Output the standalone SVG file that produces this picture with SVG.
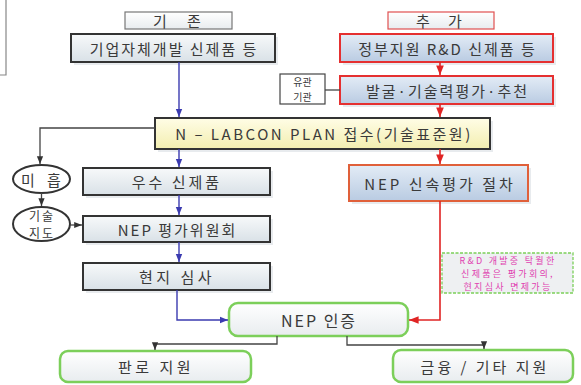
<svg xmlns="http://www.w3.org/2000/svg" width="581" height="385" viewBox="0 0 581 385">
<defs>
<linearGradient id="gGray" x1="0" y1="0" x2="0" y2="1"><stop offset="0" stop-color="#f7f9fa"/><stop offset="1" stop-color="#d9e1e7"/></linearGradient>
<linearGradient id="gBlue" x1="0" y1="0" x2="0" y2="1"><stop offset="0" stop-color="#e3ecf6"/><stop offset="1" stop-color="#b9cbe2"/></linearGradient>
<linearGradient id="gYel" x1="0" y1="0" x2="0" y2="1"><stop offset="0" stop-color="#fffde6"/><stop offset="1" stop-color="#f3eeb0"/></linearGradient>
<linearGradient id="gWhite" x1="0" y1="0" x2="0" y2="1"><stop offset="0" stop-color="#ffffff"/><stop offset="1" stop-color="#e8ecef"/></linearGradient>
<marker id="aBlue" viewBox="0 0 10 10" refX="10" refY="5" markerWidth="6" markerHeight="6" orient="auto"><path d="M0,1 L10,5 L0,9 z" fill="#3b3bb0"/></marker>
<marker id="aRed" viewBox="0 0 10 10" refX="10" refY="5" markerWidth="6" markerHeight="6" orient="auto"><path d="M0,1 L10,5 L0,9 z" fill="#e02424"/></marker>
<marker id="aDark" viewBox="0 0 10 10" refX="10" refY="5" markerWidth="6" markerHeight="6" orient="auto"><path d="M0,1 L10,5 L0,9 z" fill="#333"/></marker>
</defs>
<style>
text{font-family:"Noto Sans CJK KR","Noto Sans",sans-serif;fill:#3a3a3a;text-anchor:middle;dominant-baseline:central}
.t{font-size:15px;letter-spacing:2px}
.s{font-size:10px}
.n{font-size:9px;fill:#e040b0;letter-spacing:2.3px}
.dark{stroke:#333;stroke-width:2}
.red{stroke:#e53030;stroke-width:2}
.grn{stroke:#7ccf5a;stroke-width:2.5}
.shadow{fill:#d8dde2;opacity:0.6}
.cb{fill:none;stroke:#3b3bb0;stroke-width:1.4}
.cr{fill:none;stroke:#e02424;stroke-width:1.6}
.cd{fill:none;stroke:#444;stroke-width:1.3}
</style>
<rect width="581" height="385" fill="#ffffff"/>
<path d="M0,75 H6 V0" fill="none" stroke="#888" stroke-width="1.2"/>

<g id="n-gijon"><rect x="125" y="12" width="107" height="17" fill="url(#gWhite)" stroke="#777" stroke-width="1.2"/><text x="161" y="20.5" class="t">기</text><text x="195" y="20.5" class="t">존</text></g>
<g id="n-chuga"><rect x="388" y="12" width="106" height="17" fill="url(#gWhite)" stroke="#e05050" stroke-width="1.2"/><text x="424" y="20.5" class="t">추</text><text x="456" y="20.5" class="t">가</text></g>

<g id="n-corp"><rect x="74" y="37" width="204" height="28" class="shadow"/><rect x="71" y="34" width="204" height="28" fill="url(#gGray)" class="dark"/><text x="174" y="48" class="t">기업자체개발 신제품 등</text></g>
<g id="n-gov"><rect x="343" y="37" width="213" height="28" class="shadow"/><rect x="340" y="34" width="213" height="28" fill="url(#gBlue)" class="red"/><text x="447.5" y="48" class="t">정부지원 R&amp;D 신제품 등</text></g>
<g id="n-discover"><rect x="343" y="79" width="213" height="28" class="shadow"/><rect x="340" y="76" width="213" height="28" fill="url(#gBlue)" class="red"/><text x="447.5" y="90" class="t">발굴·기술력평가·추천</text></g>
<g id="n-agency"><rect x="280" y="74" width="45" height="30" fill="#fff" stroke="#444" stroke-width="1.2"/><text x="302.5" y="81.5" class="s">유관</text><text x="302.5" y="96.5" class="s">기관</text></g>

<g id="n-labcon"><rect x="158" y="121" width="335" height="31" class="shadow"/><rect x="155" y="118" width="335" height="31" fill="url(#gYel)" class="dark"/><text x="324" y="133.5" class="t" style="letter-spacing:2.5px">N – LABCON PLAN 접수(기술표준원)</text></g>

<g id="n-excellent"><rect x="86" y="171" width="187" height="27" class="shadow"/><rect x="83" y="168" width="187" height="27" fill="url(#gGray)" class="dark"/><text x="177" y="181.5" class="t" style="letter-spacing:3px">우수 신제품</text></g>
<g id="n-committee"><rect x="86" y="219" width="187" height="26" class="shadow"/><rect x="83" y="216" width="187" height="26" fill="url(#gGray)" class="dark"/><text x="177.5" y="229" class="t">NEP 평가위원회</text></g>
<g id="n-site"><rect x="86" y="266" width="187" height="27" class="shadow"/><rect x="83" y="263" width="187" height="27" fill="url(#gGray)" class="dark"/><text x="177" y="276.5" class="t" style="letter-spacing:3.5px">현지 심사</text></g>

<g id="n-lack"><ellipse cx="41.5" cy="179" rx="28.5" ry="14" fill="#fff" stroke="#333" stroke-width="2"/><text x="29" y="179" class="t">미</text><text x="55" y="179" class="t">흡</text></g>
<g id="n-guide"><ellipse cx="41.5" cy="224" rx="28.5" ry="17" fill="#fff" stroke="#333" stroke-width="2"/><text x="42" y="215.2" class="t" style="font-size:12px">기술</text><text x="42" y="232.8" class="t" style="font-size:12px">지도</text></g>

<g id="n-fast"><rect x="352" y="168" width="179" height="36" class="shadow"/><rect x="349" y="165" width="179" height="36" fill="url(#gBlue)" stroke="#e0603a" stroke-width="2"/><text x="440" y="183" class="t" style="letter-spacing:3px">NEP 신속평가 절차</text></g>

<g id="n-note"><rect x="442" y="253" width="131" height="40" fill="#eef0f2" stroke="#7ccf5a" stroke-width="1.3" stroke-dasharray="3,1.5"/><text x="508" y="260" class="n">R&amp;D 개발중 탁월한</text><text x="508" y="273" class="n">신제품은 평가회의,</text><text x="508" y="286" class="n">현지심사 면제가능</text></g>

<g id="n-cert"><rect x="229" y="303" width="179" height="33" rx="9" fill="url(#gWhite)" class="grn"/><text x="319" y="319.5" class="t" style="font-size:16px">NEP 인증</text></g>
<g id="n-market"><rect x="60" y="351" width="191" height="31" rx="8" fill="url(#gWhite)" class="grn"/><text x="156" y="366.5" class="t" style="letter-spacing:3.5px">판로 지원</text></g>
<g id="n-finance"><rect x="393" y="350" width="180" height="32" rx="8" fill="url(#gWhite)" class="grn"/><text x="485" y="366" class="t" style="letter-spacing:3px">금융 / 기타 지원</text></g>

<g id="connectors">
<path d="M179,62 V117" class="cb" marker-end="url(#aBlue)"/>
<path d="M179,149 V167" class="cb" marker-end="url(#aBlue)"/>
<path d="M179,195 V215" class="cb" marker-end="url(#aBlue)"/>
<path d="M179,242 V262" class="cb" marker-end="url(#aBlue)"/>
<path d="M177,290 V320 H228" class="cb" marker-end="url(#aBlue)"/>
<path d="M440,62 V75" class="cr" marker-end="url(#aRed)"/>
<path d="M440,104 V117" class="cr" marker-end="url(#aRed)"/>
<path d="M440,149 V164" class="cr" marker-end="url(#aRed)"/>
<path d="M440,201 V320 H409" class="cr" marker-end="url(#aRed)"/>
<path d="M325,90 H340" class="cd"/>
<path d="M155,128 H40 V164" class="cd" marker-end="url(#aDark)"/>
<path d="M41.5,193 V206" class="cd" marker-end="url(#aDark)"/>
<path d="M70,225 H82" class="cd" marker-end="url(#aDark)"/>
<path d="M277,336 V344 H155 V350" class="cd" marker-end="url(#aDark)"/>
<path d="M347,336 V345 H484 V349" class="cd" marker-end="url(#aDark)"/>
</g>
</svg>
